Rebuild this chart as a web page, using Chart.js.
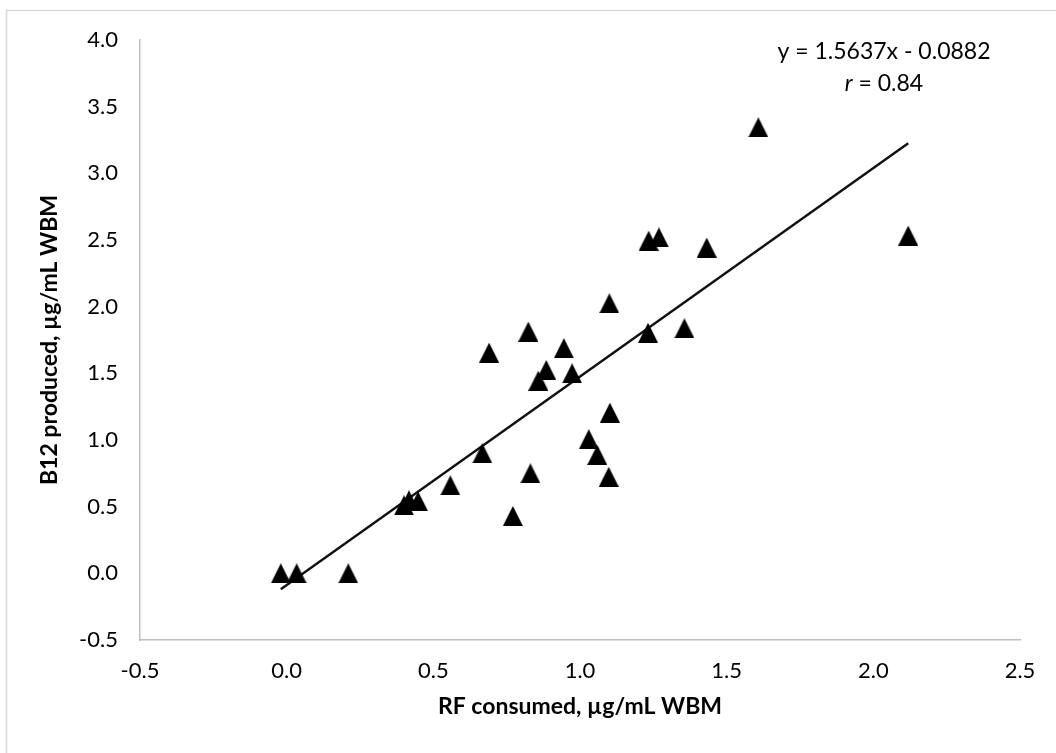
<!DOCTYPE html>
<html>
<head>
<meta charset="utf-8">
<script src="https://cdn.jsdelivr.net/npm/chart.js@4/dist/chart.umd.min.js"></script>
<style>
  html, body { margin: 0; padding: 0; background: #fff; }
  #wrap { width: 1056px; height: 753px; position: relative; }
</style>
</head>
<body>
<div id="wrap"><canvas id="chart" width="1056" height="753"></canvas></div>
<script>
"use strict";

// Data
const rfConsumed = [-0.02, 0.034, 0.21, 0.40, 0.417, 0.448, 0.558, 0.667, 0.771, 0.831,
    1.102, 1.030, 1.059, 1.098, 1.100, 0.824, 0.690, 0.945, 0.885, 0.858,
    0.973, 1.232, 1.356, 1.608, 1.234, 1.269, 1.432, 2.119];
const b12Produced = [0.00, 0.00, 0.00, 0.51, 0.548, 0.54, 0.66, 0.90, 0.43, 0.75,
    1.205, 1.006, 0.888, 0.724, 2.025, 1.813, 1.655, 1.689, 1.525, 1.445,
    1.50, 1.804, 1.838, 3.345, 2.495, 2.519, 2.443, 2.533];

// Trendline as printed on the chart
const trendSlope = 1.5637;
const trendIntercept = -0.0882;
const trendLabel = "y = 1.5637x - 0.0882";
const rLabel = "0.84";

const xTitle = "RF consumed, µg/mL WBM";
const yTitle = "B12 produced, µg/mL WBM";

const points = rfConsumed.map((x, i) => ({ x: x, y: b12Produced[i] }));
const xMin = Math.min(...rfConsumed);
const xMax = Math.max(...rfConsumed);
const trendPoints = [
    { x: xMin, y: trendSlope * xMin + trendIntercept },
    { x: xMax, y: trendSlope * xMax + trendIntercept }
];

// Excel-like triangle marker (centered on its bounding box)
const tri = document.createElement("canvas");
tri.width = 20;
tri.height = 20;
const tctx = tri.getContext("2d");
tctx.fillStyle = "#000";
tctx.beginPath();
tctx.moveTo(10, 0);
tctx.lineTo(20, 20);
tctx.lineTo(0, 20);
tctx.closePath();
tctx.fill();

const fontFamily = "Lato, 'Open Sans', sans-serif";

// Frame and equation text
const extras = {
    id: "extras",
    beforeDraw(chart) {
        const ctx = chart.ctx;
        ctx.save();
        ctx.fillStyle = "#fff";
        ctx.fillRect(0, 0, chart.width, chart.height);
        ctx.strokeStyle = "#d9d9d9";
        ctx.lineWidth = 1.5;
        ctx.beginPath();
        ctx.moveTo(6.5, chart.height);
        ctx.lineTo(6.5, 10.5);
        ctx.lineTo(chart.width, 10.5);
        ctx.stroke();
        ctx.restore();
    },
    afterDraw(chart) {
        const ctx = chart.ctx;
        ctx.save();
        ctx.fillStyle = "#000";
        ctx.textBaseline = "middle";
        ctx.textAlign = "center";
        ctx.font = "23px " + fontFamily;
        ctx.fillText(trendLabel, 884, 52);
        // "r = 0.84" with italic r
        const rest = " = " + rLabel;
        ctx.font = "italic 23px " + fontFamily;
        const wr = ctx.measureText("r").width;
        ctx.font = "23px " + fontFamily;
        const wRest = ctx.measureText(rest).width;
        const x0 = 884 - (wr + wRest) / 2;
        ctx.textAlign = "left";
        ctx.font = "italic 23px " + fontFamily;
        ctx.fillText("r", x0, 84);
        ctx.font = "23px " + fontFamily;
        ctx.fillText(rest, x0 + wr, 84);
        ctx.restore();
    }
};

const config = {
    type: "scatter",
    data: {
        datasets: [
            {
                label: "Data",
                data: points,
                pointStyle: tri,
                pointRadius: 10,
                pointHoverRadius: 10
            },
            {
                label: "Trend",
                type: "line",
                data: trendPoints,
                borderColor: "#111",
                borderWidth: 2.4,
                pointRadius: 0,
                fill: false
            }
        ]
    },
    options: {
        responsive: false,
        animation: false,
        layout: { padding: { top: 40, right: 36, bottom: 0, left: 0 } },
        plugins: {
            legend: { display: false },
            tooltip: { enabled: false }
        },
        scales: {
            x: {
                type: "linear",
                min: -0.5,
                max: 2.5,
                grid: { display: false, drawTicks: false },
                border: { display: true, color: "#bfbfbf", width: 1.5 },
                ticks: {
                    stepSize: 0.5,
                    padding: 18,
                    color: "#000",
                    font: { family: fontFamily, size: 22 },
                    callback: v => v.toFixed(1)
                },
                title: {
                    display: true,
                    text: xTitle,
                    color: "#000",
                    font: { family: fontFamily, size: 23, weight: "bold" },
                    padding: { top: 0, bottom: 33 }
                },
                afterFit(scale) { scale.height = 113; }
            },
            y: {
                type: "linear",
                min: -0.5,
                max: 4.0,
                grid: { display: false, drawTicks: false },
                border: { display: true, color: "#bfbfbf", width: 1.5 },
                ticks: {
                    stepSize: 0.5,
                    padding: 22,
                    color: "#000",
                    font: { family: fontFamily, size: 22 },
                    callback: v => v.toFixed(1)
                },
                title: {
                    display: true,
                    text: yTitle,
                    color: "#000",
                    font: { family: fontFamily, size: 23, weight: "bold" },
                    padding: { top: 36, bottom: 0 }
                },
                afterFit(scale) { scale.width = 140; }
            }
        }
    },
    plugins: [extras]
};

new Chart(document.getElementById("chart"), config);
</script>
</body>
</html>
